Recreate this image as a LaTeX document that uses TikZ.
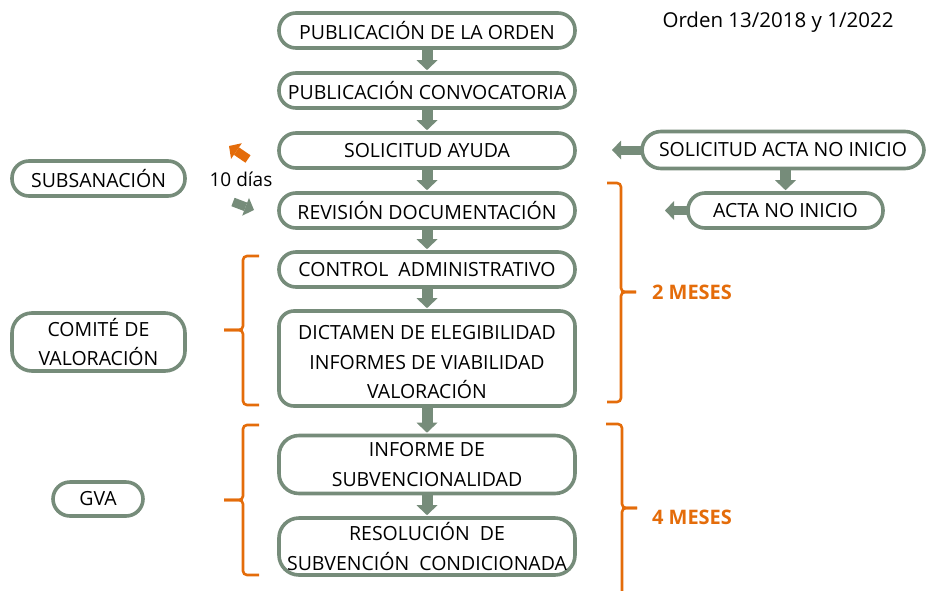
\documentclass[tikz,border=0pt]{standalone}
\usepackage{fontspec}
\setmainfont{Open Sans}
\usetikzlibrary{arrows.meta}
\definecolor{gg}{RGB}{118,140,122}
\definecolor{org}{RGB}{228,108,10}
\tikzset{
  box/.style={draw=gg, line width=3.6pt, fill=white, rounded corners=#1, align=center,
    font=\fontsize{19.5}{29.5}\selectfont, text=black, inner sep=0pt},
  box/.default=17pt,
  boxtext/.style={align=center, font=\fontsize{19.5}{29.5}\selectfont, text=black, inner sep=0pt},
  blockarrow/.style={draw=gg, line width=11pt, -{Triangle[width=21pt,length=10pt,line width=0pt]}},
  oarrow/.style={draw=org, line width=9pt, -{Triangle[width=19pt,length=9pt,line width=0pt]}},
  garrow/.style={draw=gg, line width=9pt, -{Triangle[width=19pt,length=9pt,line width=0pt]}},
  brace/.style={draw=org, line width=2.6pt, rounded corners=4pt},
  meses/.style={text=org, font=\fontsize{20}{24}\selectfont\bfseries},
}
\begin{document}
\begin{tikzpicture}[x=1pt,y=-1pt]
\useasboundingbox (0,0) rectangle (929,590);
% main column
\node[box, minimum width=296pt, minimum height=35pt] (b1) at (427,30.5) {PUBLICACIÓN DE LA ORDEN};
\node[box, minimum width=296pt, minimum height=35pt] (b2) at (427,90.5) {PUBLICACIÓN CONVOCATORIA};
\node[box, minimum width=296pt, minimum height=35pt] (b3) at (427,150.5) {SOLICITUD AYUDA};
\node[box, minimum width=296pt, minimum height=35pt] (b4) at (427,210.5) {REVISIÓN DOCUMENTACIÓN};
\node[box, minimum width=296pt, minimum height=35pt] (b5) at (427,269.5) {CONTROL~ ADMINISTRATIVO};
\node[box=15pt, minimum width=296pt, minimum height=95pt] (b6) at (427,358.5) {};
\node[boxtext] (b6t) at (427,362.5) {DICTAMEN DE ELEGIBILIDAD\\INFORMES DE VIABILIDAD\\VALORACIÓN};
\node[box=20pt, minimum width=296pt, minimum height=58pt] (b7) at (427,464.5) {INFORME DE\\SUBVENCIONALIDAD};
\node[box=20pt, minimum width=296pt, minimum height=57pt] (b8) at (427,546.5) {RESOLUCIÓN~ DE\\SUBVENCIÓN~ CONDICIONADA};
% right boxes
\node[box=19pt, minimum width=282pt, minimum height=37pt] (sa) at (783,150) {SOLICITUD ACTA NO INICIO};
\node[box, minimum width=195pt, minimum height=35pt] (an) at (785.5,210.5) {ACTA NO INICIO};
% left boxes
\node[box, minimum width=173pt, minimum height=35pt] (sub) at (98.5,178.5) {SUBSANACIÓN};
\node[box=20pt, minimum width=173pt, minimum height=58pt] (com) at (98.5,342) {COMITÉ DE\\VALORACIÓN};
\node[box, minimum width=90pt, minimum height=34pt] (gva) at (98,499) {GVA};
% texts
\node[font=\fontsize{20.5}{24}\selectfont] (ord) at (778,22) {Orden 13/2018 y 1/2022};
\node[font=\fontsize{19}{22}\selectfont] (dias) at (241,179) {10 días};
\node[meses] (m2) at (692,292) {2 MESES};
\node[meses] (m4) at (692,517) {4 MESES};
% main arrows
\foreach \a/\b in {b1/b2,b2/b3,b3/b4,b4/b5,b5/b6,b6/b7,b7/b8}
  \draw[blockarrow, shorten <=-1pt, shorten >=1pt] (\a.south) -- (\b.north);
\draw[blockarrow, shorten <=-1pt, shorten >=1pt] (sa.south -| an.north) -- (an.north);
% side arrows
\coordinate (t1) at (612,150);
\coordinate (t2) at (665,210.5);
\draw[garrow, shorten <=-2pt] (sa.west) -- (t1);
\draw[garrow, shorten <=-2pt] (an.west) -- (t2);
% small arrows near 10 dias
\coordinate (o1) at (248,159);
\coordinate (o2) at (229,146);
\draw[oarrow] (o1) -- (o2);
\coordinate (g1) at (233,202);
\coordinate (g2) at (254,210);
\draw[garrow] (g1) -- (g2);
% braces
\draw[brace] (259,256) -- (243,256) -- (243,330) -- (224,330);
\draw[brace] (224,330) -- (243,330) -- (243,405) -- (259,405);
\draw[brace] (259,425) -- (243,425) -- (243,500) -- (224,500);
\draw[brace] (224,500) -- (243,500) -- (243,575) -- (259,575);
\draw[brace] (607,183) -- (621,183) -- (621,292) -- (636,292);
\draw[brace] (636,292) -- (621,292) -- (621,402) -- (607,402);
\draw[brace] (606,424) -- (622,424) -- (622,508) -- (637,508);
\draw[brace] (637,508) -- (622,508) -- (622,600);
\end{tikzpicture}
\end{document}
